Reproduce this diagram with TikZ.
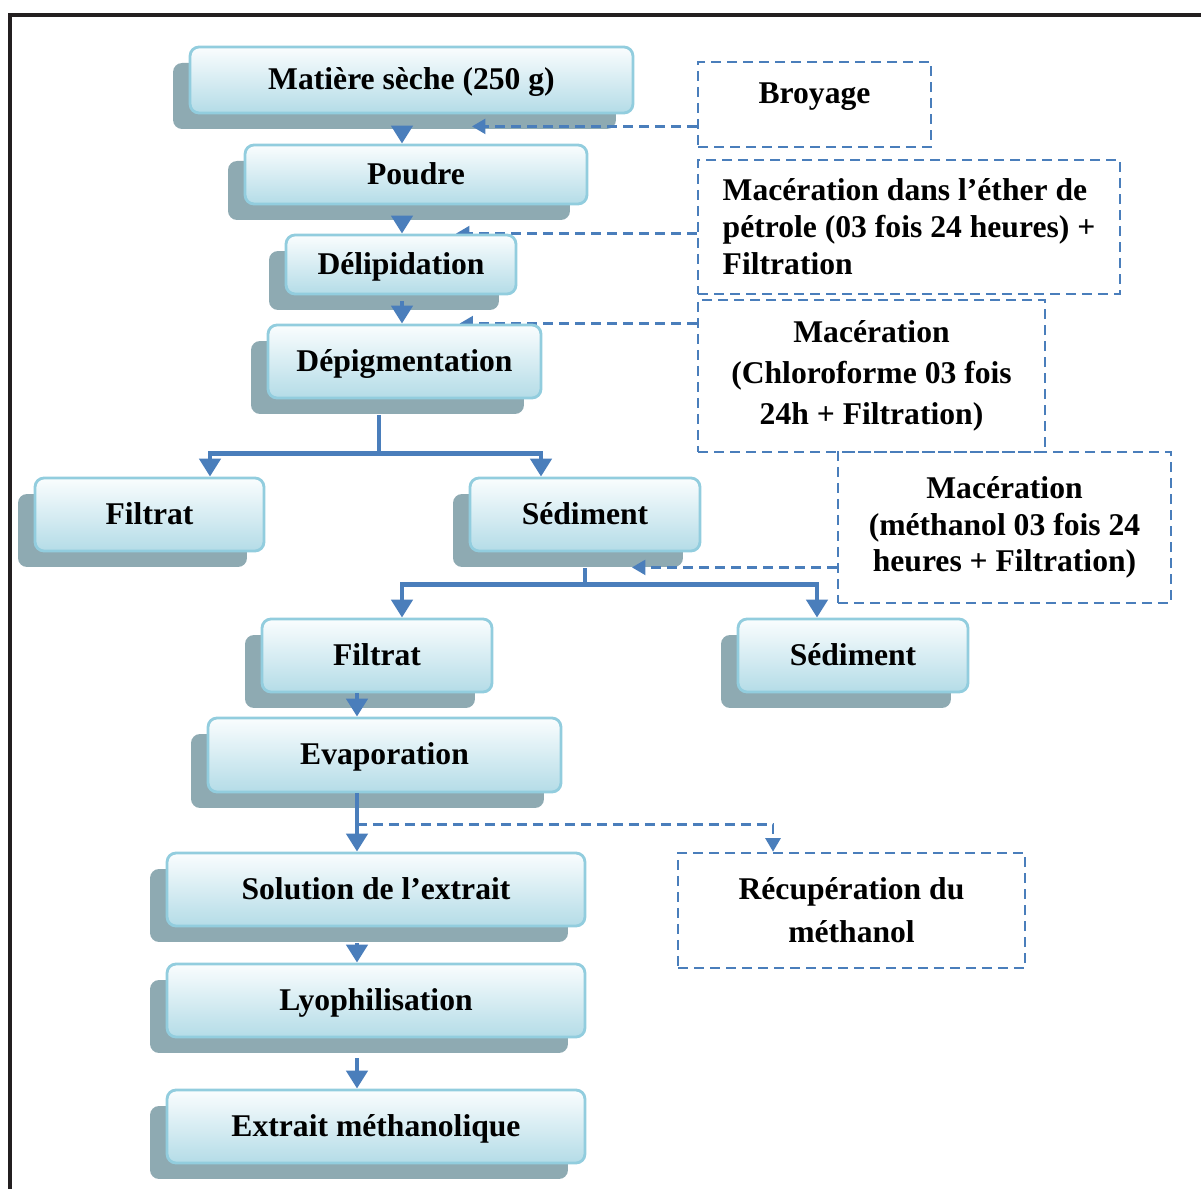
\documentclass[tikz,border=0pt]{standalone}
\usepackage{fontspec}
\setmainfont{Liberation Serif}
\usepackage{tikz}
\usepackage{xcolor}
\usetikzlibrary{arrows.meta,shadows,backgrounds}

\definecolor{boxline}{RGB}{146,205,222}
\definecolor{boxtop}{RGB}{250,253,254}
\definecolor{boxbottom}{RGB}{180,220,231}
\definecolor{boxshadow}{RGB}{142,170,178}
\definecolor{flowblue}{RGB}{74,126,187}
\definecolor{frameblack}{RGB}{35,31,32}

\tikzset{
  stagebox/.style={rectangle, rounded corners=0.18cm, draw=boxline, line width=1.6pt,
    top color=boxtop, bottom color=boxbottom,
    general shadow={fill=boxshadow, shadow xshift=-0.34cm, shadow yshift=-0.32cm},
    font=\fontsize{18}{21}\selectfont\bfseries, inner sep=0pt, text height=16pt, text depth=5pt},
  notebox/.style={rectangle, draw=flowblue, line width=1.5pt, dash pattern=on 0.2cm off 0.12cm,
    inner sep=0pt, align=center, font=\fontsize{18}{21}\selectfont\bfseries},
  flowarrow/.style={draw=flowblue, line width=2.6pt, -{Triangle[width=0.42cm,length=0.36cm]}},
  flowline/.style={draw=flowblue, line width=2.6pt},
  dasharrow/.style={draw=flowblue, line width=1.5pt, dash pattern=on 0.2cm off 0.12cm,
    -{Triangle[width=0.3cm,length=0.27cm]}}
}

\begin{document}
\begin{tikzpicture}[x=0.02cm, y=-0.02cm]
\useasboundingbox (0,0) rectangle (1201,1189);
\draw[frameblack, line width=2.3pt] (10,1189) -- (10,15) -- (1201,15);

\node[stagebox, minimum width=8.86cm, minimum height=1.32cm] (MS) at (411.5,80) {Matière sèche (250 g)};
\node[stagebox, minimum width=6.84cm, minimum height=1.18cm] (Pd) at (416,174.5) {Poudre};
\node[stagebox, minimum width=4.6cm, minimum height=1.18cm] (Dl) at (401,264.5) {Délipidation};
\node[stagebox, minimum width=5.46cm, minimum height=1.46cm] (Dp) at (404.5,361.5) {Dépigmentation};
\node[stagebox, minimum width=4.58cm, minimum height=1.46cm] (F1) at (149.5,514.5) {Filtrat};
\node[stagebox, minimum width=4.6cm, minimum height=1.46cm] (S1) at (585,514.5) {Sédiment};
\node[stagebox, minimum width=4.6cm, minimum height=1.46cm] (F2) at (377,655.5) {Filtrat};
\node[stagebox, minimum width=4.6cm, minimum height=1.46cm] (S2) at (853,655.5) {Sédiment};
\node[stagebox, minimum width=7.06cm, minimum height=1.48cm] (Ev) at (384.5,755) {Evaporation};
\node[stagebox, minimum width=8.36cm, minimum height=1.46cm] (Sol) at (376,889.5) {Solution de l’extrait};
\node[stagebox, minimum width=8.36cm, minimum height=1.46cm] (Lyo) at (376,1000.5) {Lyophilisation};
\node[stagebox, minimum width=8.36cm, minimum height=1.46cm] (Ext) at (376,1126.5) {Extrait méthanolique};

\node[notebox, minimum width=4.66cm, text height=0.84cm, text depth=0.86cm] (Br) at (814.5,104.5) {Broyage};
\node[notebox, minimum width=8.44cm, minimum height=2.68cm, align=left] (ME) at (909,227)
  {Macération dans l’éther de\\ pétrole (03 fois 24 heures) +\\ Filtration};
\node[notebox, minimum width=6.94cm, minimum height=3.04cm, font=\fontsize{18}{23.5}\selectfont\bfseries] (MC) at (871.5,376)
  {Macération\\ (Chloroforme 03 fois\\ 24h + Filtration)};
\node[notebox, minimum width=6.66cm, minimum height=3.02cm, font=\fontsize{18}{20.7}\selectfont\bfseries] (MM) at (1004.5,527.5)
  {Macération\\ (méthanol 03 fois 24\\ heures + Filtration)};
\node[notebox, minimum width=6.94cm, minimum height=2.3cm, font=\fontsize{18}{24.4}\selectfont\bfseries] (Rec) at (851.5,910.5)
  {Récupération du\\ méthanol};

\coordinate (colA) at (402,0);
\coordinate (colB) at (357,0);
\coordinate (MSin) at ([xshift=1.21cm,yshift=-0.24cm]MS.south);
\coordinate (S1in) at ([xshift=0.94cm,yshift=-0.3cm]S1.south);
\coordinate (J1) at ([xshift=-0.51cm,yshift=-1.08cm]Dp.south);
\coordinate (J2) at ([yshift=-0.64cm]S1.south);
\coordinate (EvOut) at ([yshift=-0.62cm]Ev.south -| colB);

\begin{scope}[on background layer]
\draw[dasharrow] (ME.west |- Dl.north) -- ([xshift=1.1cm]Dl.north);
\draw[dasharrow] (MC.west |- Dp.north) -- ([xshift=1.1cm]Dp.north);
\end{scope}
\draw[dasharrow] (Br.west |- MSin) -- (MSin);
\draw[dasharrow] (MM.west |- S1in) -- (S1in);
\draw[dasharrow] (EvOut) -| ([xshift=-1.57cm]Rec.north);

\draw[flowarrow] ([yshift=-0.34cm]MS.south -| colA) -- (Pd.north -| colA);
\draw[flowarrow] ([yshift=-0.32cm]Pd.south -| colA) -- (Dl.north -| colA);
\draw[flowarrow] ([yshift=-0.12cm]Dl.south -| colA) -- (Dp.north -| colA);

\draw[flowline] ([yshift=-0.32cm]Dp.south -| J1) -- (J1);
\draw[flowarrow] (J1) -| ([xshift=1.21cm]F1.north);
\draw[flowarrow] (J1) -| ([xshift=-0.88cm]S1.north);

\draw[flowline] ([yshift=-0.32cm]S1.south) -- (J2);
\draw[flowarrow] (J2) -| ([xshift=0.5cm]F2.north);
\draw[flowarrow] (J2) -| ([xshift=-0.72cm]S2.north);

\draw[flowarrow] (F2.south -| colB) -- (Ev.north -| colB);
\draw[flowarrow] (Ev.south -| colB) -- (Sol.north -| colB);
\draw[flowarrow] ([yshift=-0.32cm]Sol.south -| colB) -- (Lyo.north -| colB);
\draw[flowarrow] ([yshift=-0.4cm]Lyo.south -| colB) -- (Ext.north -| colB);
\end{tikzpicture}
\end{document}
